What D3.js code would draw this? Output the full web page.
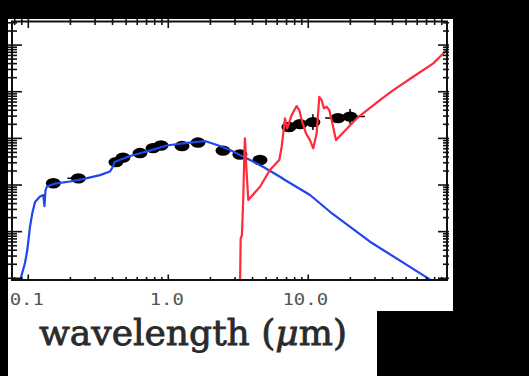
<!DOCTYPE html>
<html><head><meta charset="utf-8">
<script src="https://cdn.jsdelivr.net/npm/d3@7"></script>
<style>html,body{margin:0;padding:0;background:#000;overflow:hidden}</style>
</head><body>
<svg id="c" width="529" height="376"></svg>
<script>
// ---- data (wavelength in micron, nuFnu arbitrary log units) ----
const photLam  = [0.151, 0.228, 0.423, 0.475, 0.628, 0.778, 0.887, 1.254, 1.63, 2.46, 3.25, 4.52, 7.28, 8.73, 10.8, 16.3, 19.9];
const photFlux = [1.09e-12, 1.39e-12, 3.10e-12, 3.87e-12, 4.84e-12, 6.19e-12, 7.02e-12, 6.84e-12, 8.13e-12, 5.47e-12, 4.50e-12, 3.43e-12, 1.75e-11, 2.02e-11, 2.23e-11, 2.72e-11, 2.93e-11];
const photLamLo = [null, 0.19, null, null, null, null, null, null, null, null, null, null, null, null, null, 13.2, 16.3];
const photLamHi = [null, null, null, null, null, null, null, null, null, null, null, null, null, null, null, 19.9, 25.4];
const photErrDex = [0, 0, 0, 0, 0, 0, 0, 0, 0, 0, 0, 0, 0, 0, 0.17, 0, 0.16];

const starLam  = [0.0873, 0.0947, 0.0984, 0.1028, 0.1069, 0.1117, 0.1213, 0.128, 0.1305, 0.1328, 0.136, 0.1552, 0.1987, 0.254, 0.325, 0.383, 0.403, 0.413, 0.532, 0.739, 0.975, 1.316, 1.827, 2.34, 2.76, 3.84, 4.75, 6.28, 6.82, 10.3, 14.3, 27.6, 71.9, 87];
const starFlux = [8.75e-15, 2.13e-14, 4.04e-14, 1.26e-13, 2.51e-13, 4.32e-13, 5.66e-13, 6.10e-13, 3.54e-13, 7.80e-13, 9.27e-13, 1.07e-12, 1.19e-12, 1.37e-12, 1.63e-12, 1.94e-12, 2.49e-12, 3.10e-12, 4.18e-12, 5.47e-12, 7.02e-12, 7.93e-12, 8.75e-12, 6.84e-12, 5.61e-12, 3.43e-12, 2.46e-12, 1.50e-12, 1.28e-12, 6.10e-13, 2.67e-13, 6.08e-14, 1.0e-14, 6.46e-15];

const diskLam  = [3.24, 3.26, 3.29, 3.36, 3.43, 3.50, 3.53, 3.62, 3.73, 4.52, 5.32, 6.21, 6.46, 6.82, 7.08, 7.61, 8.26, 8.63, 8.97, 9.63, 10.29, 10.86, 11.48, 11.99, 12.47, 12.95, 13.53, 14.13, 14.69, 15.78, 22.18, 32.5, 40.5, 56.2, 78.2, 97.5];
const diskFlux = [5e-15, 9.2e-15, 7.19e-14, 8.47e-14, 4.76e-13, 5.61e-12, 1.0e-11, 2.09e-12, 4.76e-13, 9.18e-13, 2.09e-12, 3.43e-12, 6.61e-12, 2.68e-11, 1.64e-11, 3.15e-11, 4.92e-11, 4.04e-11, 2.47e-11, 1.28e-11, 9.18e-12, 6.11e-12, 1.28e-11, 7.78e-11, 6.61e-11, 4.40e-11, 4.75e-11, 4.04e-11, 2.47e-11, 9.18e-12, 2.68e-11, 6.61e-11, 1.08e-10, 2.09e-10, 4.05e-10, 7.80e-10];

const xTickValues = [0.1, 1, 10];
const xTickLabels = ["0.1", "1.0", "10.0"];
const xTitle = "wavelength (";
const xTitleUnit = "μ";
const xTitleEnd = "m)";

// ---- layout ----
const svg = d3.select("#c");
const L = 12, R = 447, T = 21.5, B = 280;
const x = d3.scaleLog().domain([0.0765, 98]).range([L, R]);
const y = d3.scaleLog().domain([9.2e-15, 3.2e-9]).range([B, T]);

svg.append("rect").attr("x", 0).attr("y", 0).attr("width", 529).attr("height", 376).attr("fill", "#000");
svg.append("rect").attr("x", 8).attr("y", 19).attr("width", 445).attr("height", 292).attr("fill", "#fff");
svg.append("rect").attr("x", 8).attr("y", 310).attr("width", 369).attr("height", 66).attr("fill", "#fff");

svg.append("clipPath").attr("id", "clip").append("rect")
  .attr("x", L).attr("y", T).attr("width", R - L).attr("height", B - T);

// photometry points
const pts = photLam.map((l, i) => ({l, f: photFlux[i], lo: photLamLo[i], hi: photLamHi[i], e: photErrDex[i]}));
const gp = svg.append("g").attr("clip-path", "url(#clip)");
gp.selectAll("line.xe").data(pts.filter(d => d.lo || d.hi)).join("line")
  .attr("x1", d => x(d.lo || d.l)).attr("x2", d => x(d.hi || d.l))
  .attr("y1", d => y(d.f)).attr("y2", d => y(d.f))
  .attr("stroke", "#000").attr("stroke-width", 1.5);
gp.selectAll("line.ye").data(pts.filter(d => d.e > 0)).join("line")
  .attr("x1", d => x(d.l)).attr("x2", d => x(d.l))
  .attr("y1", d => y(d.f * Math.pow(10, d.e))).attr("y2", d => y(d.f / Math.pow(10, d.e)))
  .attr("stroke", "#000").attr("stroke-width", 1.5);
gp.selectAll("ellipse").data(pts).join("ellipse")
  .attr("cx", d => x(d.l)).attr("cy", d => y(d.f))
  .attr("rx", 7.5).attr("ry", 5.2).attr("fill", "#000");

// model curves
const line = d3.line().x(d => x(d[0])).y(d => y(d[1]));
const gl = svg.append("g").attr("clip-path", "url(#clip)");
gl.append("path").datum(starLam.map((l, i) => [l, starFlux[i]]))
  .attr("d", line).attr("fill", "none").attr("stroke", "#1f45ee").attr("stroke-width", 2.2).attr("stroke-linejoin", "round");
gl.append("path").datum(diskLam.map((l, i) => [l, diskFlux[i]]))
  .attr("d", line).attr("fill", "none").attr("stroke", "#ff2a3a").attr("stroke-width", 2.2).attr("stroke-linejoin", "round");

// frame
svg.append("rect").attr("x", L).attr("y", T).attr("width", R - L).attr("height", B - T)
  .attr("fill", "none").attr("stroke", "#111").attr("stroke-width", 2);

// ticks
const isMajor = v => Math.abs(Math.log10(v) - Math.round(Math.log10(v))) < 1e-6;
const xt = x.ticks();
const yt = y.ticks();
const gt = svg.append("g").attr("stroke", "#111").attr("stroke-width", 1.6);
xt.forEach(v => {
  const px = x(v), M = isMajor(v);
  gt.append("line").attr("x1", px).attr("x2", px).attr("y1", T - 2.5).attr("y2", T + (M ? 6.5 : 3.5));
  gt.append("line").attr("x1", px).attr("x2", px).attr("y1", B + 1).attr("y2", B - (M ? 5.5 : 3));
});
yt.forEach(v => {
  const py = y(v), M = isMajor(v);
  gt.append("line").attr("y1", py).attr("y2", py).attr("x1", L - 4).attr("x2", L + (M ? 10 : 5));
  gt.append("line").attr("y1", py).attr("y2", py).attr("x1", R + 2).attr("x2", R - (M ? 9 : 4));
});

// tick labels
svg.append("g").selectAll("text").data(xTickValues).join("text")
  .attr("x", d => x(d) - (d === 10 ? 3 : 1.5)).attr("y", 305)
  .attr("text-anchor", "middle")
  .attr("font-family", "DejaVu Sans Mono, monospace").attr("font-size", 15)
  .attr("fill", "#555")
  .attr("textLength", (d, i) => xTickLabels[i].length * 11.4)
  .attr("lengthAdjust", "spacingAndGlyphs")
  .text((d, i) => xTickLabels[i]);

// axis title
const tt = svg.append("text").attr("x", 193).attr("y", 345).attr("text-anchor", "middle")
  .attr("font-family", "DejaVu Serif, serif").attr("font-size", 36).attr("fill", "#2a2a2a")
  .attr("stroke", "#2a2a2a").attr("stroke-width", 0.8)
  .attr("textLength", 308).attr("lengthAdjust", "spacingAndGlyphs");
tt.append("tspan").text(xTitle);
tt.append("tspan").attr("font-style", "italic").text(xTitleUnit);
tt.append("tspan").text(xTitleEnd);
</script>
</body></html>
